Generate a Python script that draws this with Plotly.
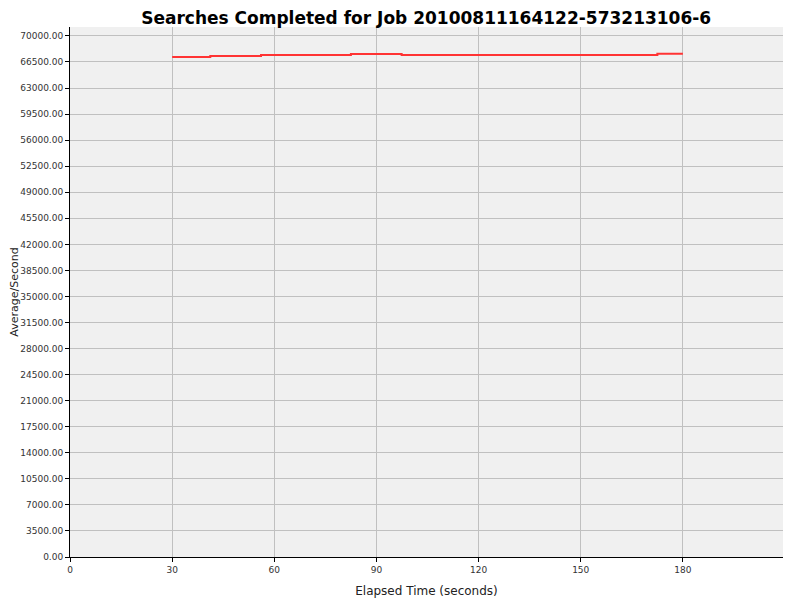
import plotly.graph_objects as go

# step points (seconds, average per second)
elapsed = [30, 41.2, 56.1, 82.5, 97.4, 172.5, 180]
avg_per_sec = [67180, 67315, 67450, 67580, 67450, 67600, 67600]

x_ticks = [0, 30, 60, 90, 120, 150, 180]
y_ticks = [i * 3500 for i in range(21)]

fig = go.Figure()
fig.add_trace(go.Scatter(
    x=elapsed, y=avg_per_sec, mode="lines", line_shape="hv",
    line=dict(color="#ff3333", width=2), showlegend=False,
))

# page body has an 8px margin, so the figure is a bit smaller than the window
fig.update_layout(
    width=792, height=592,
    margin=dict(l=62, r=17, t=19, b=43),
    paper_bgcolor="white", plot_bgcolor="#f0f0f0",
    font=dict(family="DejaVu Sans", size=9, color="#333333"),
    title=dict(text="<b>Searches Completed for Job 20100811164122-573213106-6</b>",
               x=0.528, xanchor="center", y=1.0, yanchor="top", pad=dict(t=4),
               font=dict(family="DejaVu Sans", size=17, color="black")),
)
fig.update_xaxes(
    range=[0, 209.4], tickvals=x_ticks, ticks="outside", ticklen=4,
    showline=True, linecolor="black", linewidth=1, tickcolor="black",
    showgrid=True, gridcolor="#c0c0c0", gridwidth=1, zeroline=False,
    automargin=False,
    title=dict(text="Elapsed Time (seconds)", font=dict(size=12, color="#222222"), standoff=12),
)
fig.update_yaxes(
    range=[0, 71200], tickvals=y_ticks, tickformat=".2f", ticks="outside", ticklen=4,
    showline=True, linecolor="black", linewidth=1, tickcolor="black",
    showgrid=True, gridcolor="#c0c0c0", gridwidth=1, zeroline=False,
    automargin=False,
    title=dict(text="Average/Second", font=dict(size=11, color="#222222"), standoff=0),
)

fig.write_html("out.html")
